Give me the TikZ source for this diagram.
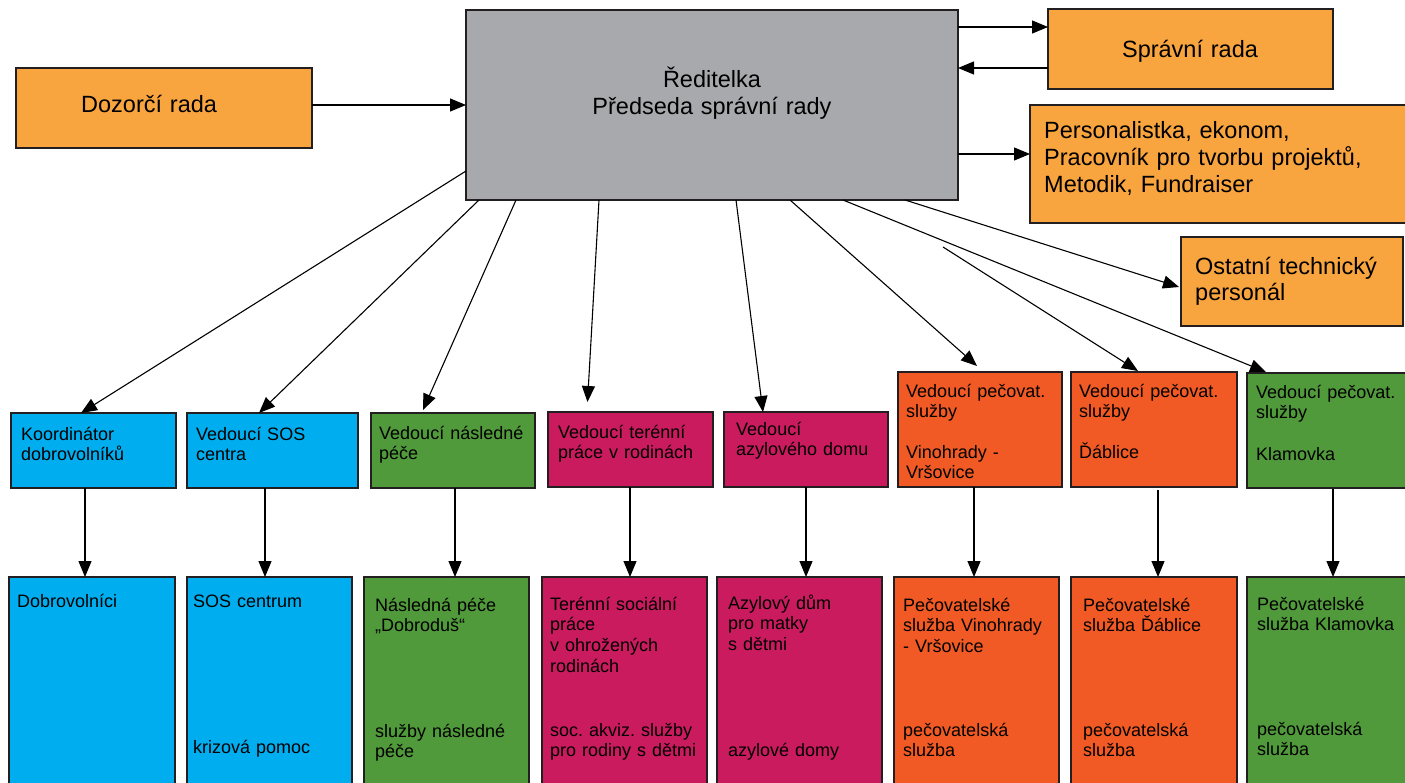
\documentclass[tikz,border=0pt]{standalone}
\usepackage{fontspec}
\setmainfont{Liberation Sans}
\usetikzlibrary{arrows.meta}
\frenchspacing
\definecolor{cOrL}{HTML}{F8A43F}
\definecolor{cGray}{HTML}{A7A9AC}
\definecolor{cBlue}{HTML}{00AEEF}
\definecolor{cGreen}{HTML}{519A3B}
\definecolor{cMag}{HTML}{C91B5D}
\definecolor{cOrR}{HTML}{F15A24}
\definecolor{cBord}{HTML}{231F20}
\begin{document}
\begin{tikzpicture}[x=1pt,y=-1pt,
  box/.style={draw=cBord, line width=1.2pt, inner sep=0pt, outer sep=0pt, anchor=north west},
  arr/.style={-{Triangle[length=16pt,width=13pt]}, line width=1.1pt, draw=black},
  small/.style={font=\fontsize{18}{20.7}\selectfont, anchor=base west, align=left, text width=190pt, inner sep=0pt},
  big/.style={font=\fontsize{23.5}{26.5}\selectfont, anchor=base west, align=left, text width=360pt, inner sep=0pt}]
\useasboundingbox (0,0) rectangle (1405,783);
\clip (0,0) rectangle (1405,783);
\fill[white] (0,0) rectangle (1405,783);

% top boxes
\node[box, fill=cGray, minimum width=492pt, minimum height=190pt] (dir) at (466,10) {};
\node[box, fill=cOrL, minimum width=296pt, minimum height=80pt] (doz) at (16,68) {};
\node[box, fill=cOrL, minimum width=285pt, minimum height=80pt] (spr) at (1048,9) {};
\node[box, fill=cOrL, minimum width=380pt, minimum height=118pt] (per) at (1030,105) {};
\node[box, fill=cOrL, minimum width=222pt, minimum height=89pt] (ost) at (1181,237) {};

% middle boxes
\node[box, fill=cBlue, minimum width=165pt, minimum height=75pt] (m1) at (11,413) {};
\node[box, fill=cBlue, minimum width=171pt, minimum height=75pt] (m2) at (187,413) {};
\node[box, fill=cGreen, minimum width=164pt, minimum height=75pt] (m3) at (371,413) {};
\node[box, fill=cMag, minimum width=165pt, minimum height=75pt] (m4) at (548,412) {};
\node[box, fill=cMag, minimum width=164pt, minimum height=75pt] (m5) at (724,412) {};
\node[box, fill=cOrR, minimum width=164pt, minimum height=115pt] (m6) at (898,372) {};
\node[box, fill=cOrR, minimum width=166pt, minimum height=115pt] (m7) at (1071,372) {};
\node[box, fill=cGreen, minimum width=170pt, minimum height=115pt] (m8) at (1247,373) {};

% bottom boxes
\node[box, fill=cBlue, minimum width=166pt, minimum height=220pt] (b1) at (9,577) {};
\node[box, fill=cBlue, minimum width=165pt, minimum height=220pt] (b2) at (187,577) {};
\node[box, fill=cGreen, minimum width=165pt, minimum height=220pt] (b3) at (364,577) {};
\node[box, fill=cMag, minimum width=165pt, minimum height=220pt] (b4) at (542,577) {};
\node[box, fill=cMag, minimum width=165pt, minimum height=220pt] (b5) at (717,577) {};
\node[box, fill=cOrR, minimum width=165pt, minimum height=220pt] (b6) at (894,577) {};
\node[box, fill=cOrR, minimum width=166pt, minimum height=220pt] (b7) at (1071,577) {};
\node[box, fill=cGreen, minimum width=170pt, minimum height=220pt] (b8) at (1247,577) {};

% top texts
\node[big] (tdoz) at (81,113) {Dozorčí rada};
\node[big, anchor=base, align=center, text width=400pt] (tdir) at (712,88) {Ředitelka\\Předseda správní rady};
\node[big, anchor=base, align=center, text width=280pt] (tspr) at (1190,58) {Správní rada};
\node[big, font=\fontsize{23.5}{27}\selectfont] (tper) at (1044,139) {Personalistka, ekonom,\\Pracovník pro tvorbu projektů,\\Metodik, Fundraiser};
\node[big, font=\fontsize{23.5}{25.5}\selectfont] (tost) at (1195,275) {Ostatní technický\\personál};

% middle texts
\node[small] (tm1) at (21,440) {Koordinátor\\dobrovolníků};
\node[small] (tm2) at (196,440) {Vedoucí SOS\\centra};
\node[small] (tm3) at (379,439) {Vedoucí následné\\péče};
\node[small] (tm4) at (558,438) {Vedoucí terénní\\práce v rodinách};
\node[small] (tm5) at (736,435) {Vedoucí\\azylového domu};
\node[small] (tm6a) at (906,397) {Vedoucí pečovat.\\služby};
\node[small] (tm6b) at (906,458) {Vinohrady -\\Vršovice};
\node[small] (tm7a) at (1079,397) {Vedoucí pečovat.\\služby};
\node[small] (tm7b) at (1079,458) {Ďáblice};
\node[small] (tm8a) at (1256,398) {Vedoucí pečovat.\\služby};
\node[small] (tm8b) at (1256,460) {Klamovka};

% bottom texts
\node[small] (tb1) at (17,607) {Dobrovolníci};
\node[small] (tb2a) at (193,607) {SOS centrum};
\node[small] (tb2b) at (193,753) {krizová pomoc};
\node[small] (tb3a) at (375,611) {Následná péče\\„Dobroduš“};
\node[small] (tb3b) at (375,737) {služby následné\\péče};
\node[small] (tb4a) at (550,610) {Terénní sociální\\práce\\v ohrožených\\rodinách};
\node[small] (tb4b) at (550,736) {soc. akviz. služby\\pro rodiny s dětmi};
\node[small] (tb5a) at (728,609) {Azylový dům\\pro matky\\s dětmi};
\node[small] (tb5b) at (728,756) {azylové domy};
\node[small] (tb6a) at (903,611) {Pečovatelské\\služba Vinohrady\\- Vršovice};
\node[small] (tb6b) at (903,736) {pečovatelská\\služba};
\node[small] (tb7a) at (1083,611) {Pečovatelské\\služba Ďáblice};
\node[small] (tb7b) at (1083,736) {pečovatelská\\služba};
\node[small] (tb8a) at (1257,610) {Pečovatelské\\služba Klamovka};
\node[small] (tb8b) at (1257,735) {pečovatelská\\služba};

% horizontal arrows at top
\coordinate (a0) at ([yshift=3pt]doz.east);
\draw[arr] (a0) -- (a0 -| dir.west);
\coordinate (a1) at ([yshift=-17pt]dir.north east);
\draw[arr] (a1) -- (a1 -| spr.west);
\coordinate (a2) at ([yshift=-59pt]spr.north west);
\draw[arr] (a2) -- (a2 -| dir.east);
\coordinate (a3) at ([yshift=-144pt]dir.north east);
\draw[arr] (a3) -- (a3 -| per.west);

% diagonal arrows from director
\draw[arr] ([yshift=29pt]dir.south west) -- ([xshift=70pt]m1.north west);
\draw[arr] ([xshift=13pt]dir.south west) -- ([xshift=72pt]m2.north west);
\draw[arr] ([xshift=50pt]dir.south west) -- ([xshift=52pt,yshift=3pt]m3.north west);
\draw[arr] ([xshift=133pt]dir.south west) -- ([xshift=39.5pt,yshift=10pt]m4.north west);
\draw[arr] ([xshift=270pt]dir.south west) -- ([xshift=39pt]m5.north west);
\draw[arr] ([xshift=324pt]dir.south west) -- ([xshift=79pt,yshift=6pt]m6.north west);
\coordinate (f7) at (943,247);
\draw[arr] (f7) -- ([xshift=67pt,yshift=1pt]m7.north west);
\draw[arr] ([xshift=377pt]dir.south west) -- ([xshift=19pt,yshift=1pt]m8.north west);
\draw[arr] ([xshift=439pt]dir.south west) -- ([xshift=-2pt,yshift=-50pt]ost.north west);

% vertical arrows
\draw[arr] ([xshift=74pt]m1.south west) -- ([xshift=76pt]b1.north west);
\draw[arr] ([xshift=78pt]m2.south west) -- ([xshift=78pt]b2.north west);
\draw[arr] ([xshift=84pt]m3.south west) -- ([xshift=91pt]b3.north west);
\draw[arr] ([xshift=82pt]m4.south west) -- ([xshift=88pt]b4.north west);
\draw[arr] ([xshift=82pt]m5.south west) -- ([xshift=89pt]b5.north west);
\draw[arr] ([xshift=76pt]m6.south west) -- ([xshift=80pt]b6.north west);
\draw[arr] ([xshift=87pt,yshift=-3pt]m7.south west) -- ([xshift=87pt]b7.north west);
\draw[arr] ([xshift=86pt,yshift=-1pt]m8.south west) -- ([xshift=86pt]b8.north west);
\end{tikzpicture}
\end{document}
